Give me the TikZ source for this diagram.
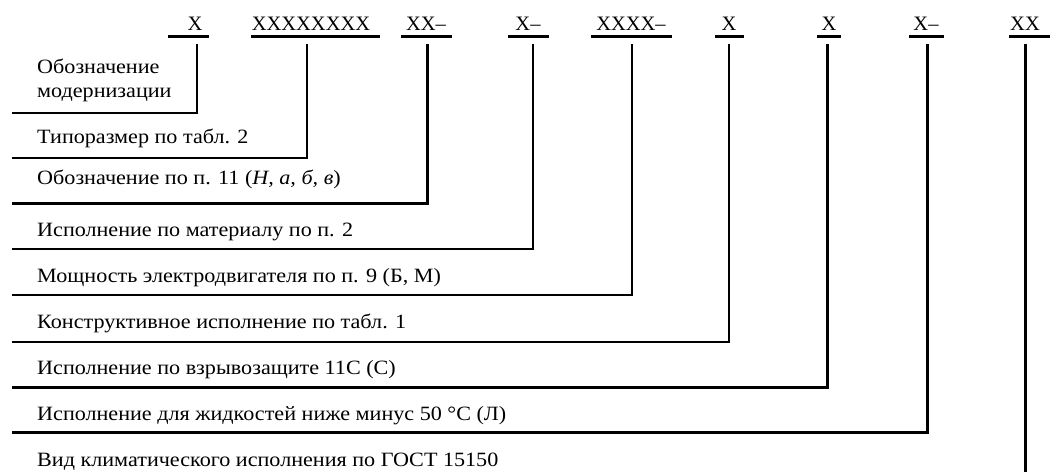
\documentclass[tikz,border=0pt]{standalone}
\usepackage{fontspec}
\setmainfont{Liberation Serif}
\newfontfamily\lblfont[FakeStretch=1.09]{Liberation Serif}
\begin{document}
\begin{tikzpicture}[x=1pt,y=-1pt,
  code/.style={anchor=base,inner sep=0pt,font=\fontsize{20.5}{22}\selectfont},
  lbl/.style={anchor=base west,inner sep=0pt,align=left,font=\lblfont\fontsize{20.3}{24}\selectfont},
  thinl/.style={line width=1.4pt},
  medl/.style={line width=2pt},
  thickl/.style={line width=3pt},
  ul/.style={line width=3pt}]
\useasboundingbox (0,0) rectangle (1052,472);
% codes
\node[code] (c1) at (195,30) {Х};
\node[code] (c2) at (311,30) {ХХХХХХХХ};
\node[code] (c3) at (426,30) {ХХ–};
\node[code] (c4) at (528,30) {Х–};
\node[code] (c5) at (631,30) {ХХХХ–};
\node[code] (c6) at (729,30) {Х};
\node[code] (c7) at (829,30) {Х};
\node[code] (c8) at (926,30) {Х–};
\node[code] (c9) at (1025,30) {ХХ};
% underlines
\draw[ul] (168,36.5) -- (209,36.5);
\draw[ul] (251,36.5) -- (380,36.5);
\draw[ul] (401,36.5) -- (452,36.5);
\draw[ul] (508,36.5) -- (549,36.5);
\draw[ul] (591,36.5) -- (672,36.5);
\draw[ul] (715,36.5) -- (744,36.5);
\draw[ul] (817,36.5) -- (841,36.5);
\draw[ul] (909,36.5) -- (944,36.5);
\draw[ul] (1009,36.5) -- (1050,36.5);
% labels
\node[lbl] (l1) at (37,97) {Обозначение\\модернизации};
\node[lbl] (l2) at (37,143) {Типоразмер по табл. 2};
\node[lbl] (l3) at (37,184) {Обозначение по п. 11 (\textit{Н, а, б, в})};
\node[lbl] (l4) at (37,236) {Исполнение по материалу по п. 2};
\node[lbl] (l5) at (37,282) {Мощность электродвигателя по п. 9 (Б, М)};
\node[lbl] (l6) at (37,328) {Конструктивное исполнение по табл. 1};
\node[lbl] (l7) at (37,374) {Исполнение по взрывозащите 11С (С)};
\node[lbl] (l8) at (37,420) {Исполнение для жидкостей ниже минус 50~°С (Л)};
\node[lbl] (l9) at (37,466) {Вид климатического исполнения по ГОСТ 15150};
% connector end points
\coordinate (e1) at (12,113);
\coordinate (e2) at (12,158);
\coordinate (e3) at (12,203);
\coordinate (e4) at (12,249);
\coordinate (e5) at (12,295);
\coordinate (e6) at (12,342);
\coordinate (e7) at (12,387);
\coordinate (e8) at (12,432);
\coordinate (e9) at (1025,472);
% connectors
\draw[thinl] (197,44) |- (e1);
\draw[thinl] (307,44) |- (e2);
\draw[thickl] (427,44) |- (e3);
\draw[medl] (533,44) |- (e4);
\draw[thinl] (632,44) |- (e5);
\draw[thinl] (729,44) |- (e6);
\draw[thickl] (827,44) |- (e7);
\draw[thickl] (927,44) |- (e8);
\draw[thickl] (1025,44) -- (e9);
\end{tikzpicture}
\end{document}
